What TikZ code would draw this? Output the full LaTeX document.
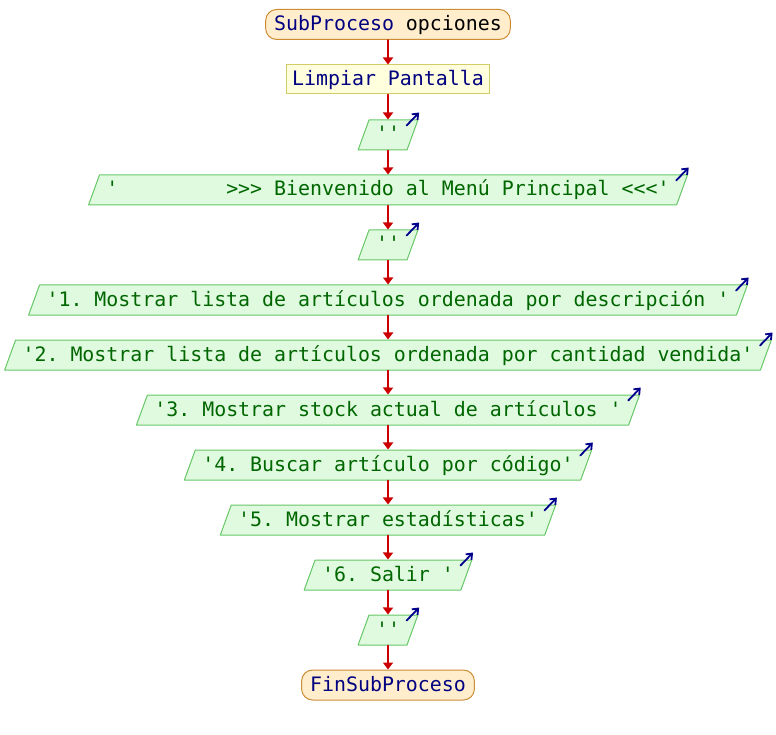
\documentclass[tikz,border=0pt]{standalone}
\usepackage{fontspec}
\setmonofont{DejaVu Sans Mono}
\usepackage{tikz}
\usetikzlibrary{shapes.geometric,arrows.meta,calc}
\definecolor{termfill}{rgb}{1.,0.93,0.80}
\definecolor{termline}{rgb}{0.80,0.55,0.20}
\definecolor{procfill}{rgb}{1.,1.,0.87}
\definecolor{procline}{rgb}{0.82,0.80,0.40}
\definecolor{iofill}{rgb}{0.88,0.98,0.88}
\definecolor{ioline}{rgb}{0.40,0.78,0.40}
\definecolor{kwblue}{rgb}{0.,0.,0.5}
\definecolor{strgreen}{rgb}{0.,0.40,0.}
\definecolor{flowred}{rgb}{0.80,0.,0.}
\definecolor{outblue}{rgb}{0.,0.,0.55}

\begin{document}
\begin{tikzpicture}[line cap=round,line join=round,x=1pt,y=-1pt,
    every node/.style={font=\ttfamily\fontsize{19.9}{24}\selectfont,text height=16pt,text depth=4pt,inner ysep=5pt},
    termbox/.style={draw=termline,fill=termfill,line width=1pt,rounded corners=11pt,inner xsep=8.5pt},
    procbox/.style={draw=procline,fill=procfill,line width=1pt,inner xsep=6pt,inner ysep=4.5pt,text=kwblue},
    iobox/.style={trapezium,trapezium left angle=70,trapezium right angle=110,draw=ioline,fill=iofill,line width=1pt,inner xsep=7pt,text=strgreen},
    flow/.style={draw=flowred,line width=1.8pt,-{Triangle[width=10pt,length=7pt]}},
    outarrow/.style={draw=outblue,line width=1.8pt,-{Straight Barb[length=5pt,width=8pt]}}]
\useasboundingbox (0,0) rectangle (776,735);
% cabecera
\node[termbox] (start) at (388,24.5) {{\color{kwblue}SubProceso} opciones};
\node[procbox] (clear) at (388,79.5) {Limpiar Pantalla};
% salidas del menu
\node[iobox] (blank1) at (388,135) {''};
\node[iobox] (title) at (388,190) {'\ \ \ \ \ \ \ \ \ >>> Bienvenido al Menú Principal <<<'};
\node[iobox] (blank2) at (388,245) {''};
\node[iobox] (opt1) at (388,300) {'1. Mostrar lista de artículos ordenada por descripción '};
\node[iobox] (opt2) at (388,355) {'2. Mostrar lista de artículos ordenada por cantidad vendida'};
\node[iobox] (opt3) at (388,410) {'3. Mostrar stock actual de artículos '};
\node[iobox] (opt4) at (388,465) {'4. Buscar artículo por código'};
\node[iobox] (opt5) at (388,520) {'5. Mostrar estadísticas'};
\node[iobox] (opt6) at (388,575) {'6. Salir '};
\node[iobox] (blank3) at (388,630) {''};
% fin
\node[termbox,text=kwblue] (stop) at (388,685) {FinSubProceso};
\foreach \a/\b in {start/clear,clear/blank1,blank1/title,title/blank2,blank2/opt1,opt1/opt2,opt2/opt3,opt3/opt4,opt4/opt5,opt5/opt6,opt6/blank3,blank3/stop}
    \draw[flow] (\a.south) -- (\b.north);
\foreach \n in {blank1,title,blank2,opt1,opt2,opt3,opt4,opt5,opt6,blank3}
    \draw[outarrow] ($(\n.top right corner)+(-12,6)$) -- ++(12.5,-13);
\end{tikzpicture}
\end{document}
